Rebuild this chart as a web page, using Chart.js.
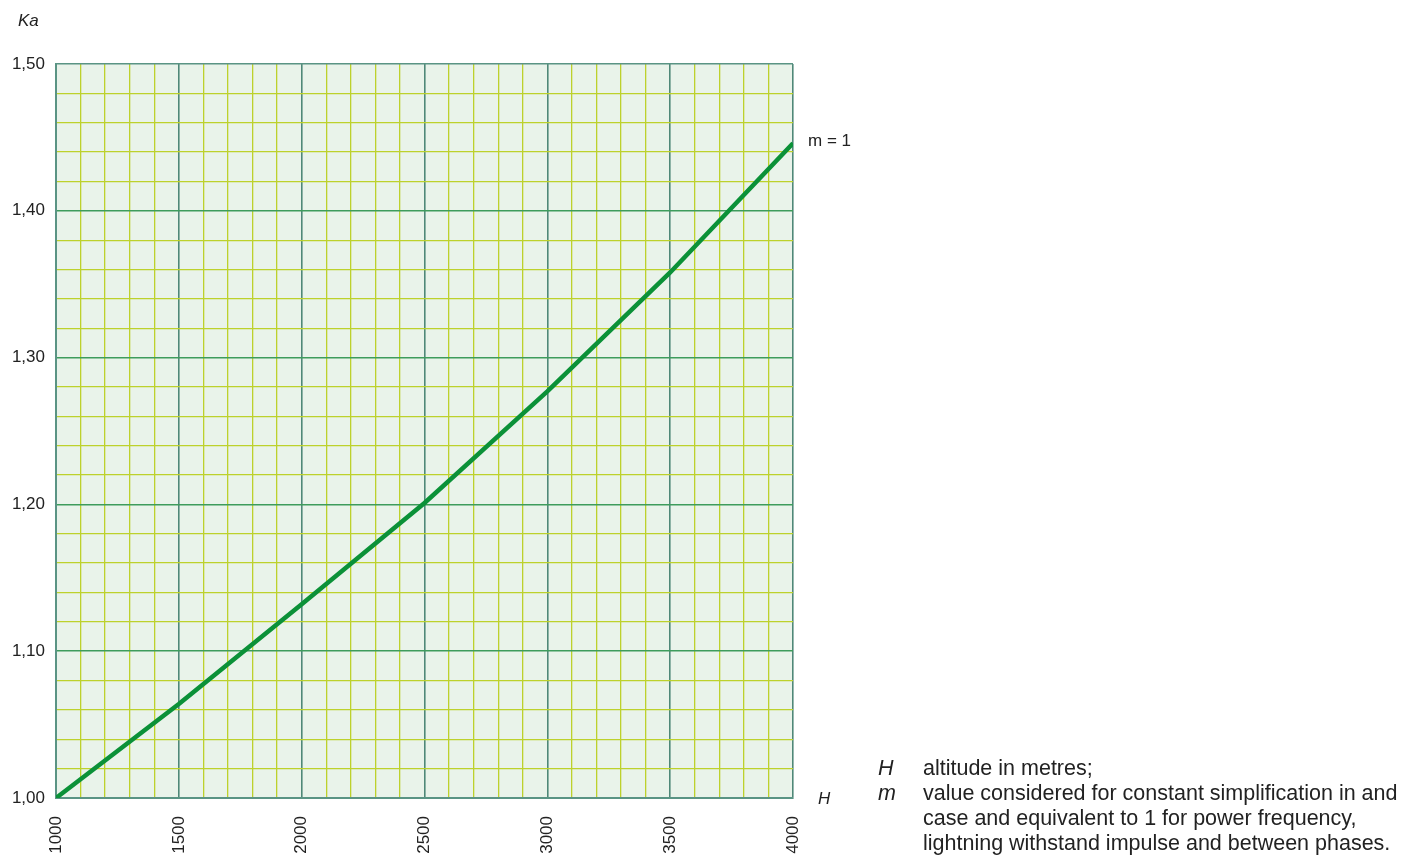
<!DOCTYPE html>
<html>
<head>
    <title>Ka vs altitude</title>
    <script src="https://cdn.jsdelivr.net/npm/chart.js"></script>
    <style>
        html, body { margin: 0; padding: 0; background: #fff; }
        body { width: 1406px; height: 855px; position: relative; overflow: hidden; font-family: "Liberation Sans", Arial, sans-serif; color: #222; }
        #wrap { position: absolute; left: 0; top: 0; width: 1406px; height: 855px; }
        .note { position: absolute; font-size: 21.5px; line-height: 25px; white-space: nowrap; }
        .note i { position: absolute; left: 0; }
        .note span { position: absolute; left: 45px; }
    </style>
</head>
<body>
<div id="wrap"><canvas id="kaChart" width="1406" height="855"></canvas></div>
<div class="note" style="left:878px; top:756px;"><i>H</i><span>altitude in metres;</span></div>
<div class="note" style="left:878px; top:781px;"><i>m</i><span>value considered for constant simplification in and<br>case and equivalent to 1 for power frequency,<br>lightning withstand impulse and between phases.</span></div>
<script>
// values (m = 1)
var altitudes = [1000, 1500, 2000, 2500, 3000, 3500, 4000];
var kaValues  = [1.000, 1.064, 1.132, 1.201, 1.277, 1.358, 1.446];
var xLabelValues = [1000, 1500, 2000, 2500, 3000, 3500, 4000];
var yLabelValues = [1.00, 1.10, 1.20, 1.30, 1.40, 1.50];
var curveLabel = 'm = 1';

var bgPlugin = {
    id: 'bg',
    beforeDraw: function(chart) {
        var a = chart.chartArea, ctx = chart.ctx;
        ctx.save();
        ctx.fillStyle = '#e9f3ea';
        ctx.fillRect(a.left, a.top, a.right - a.left, a.bottom - a.top);
        ctx.restore();
    },
    afterDraw: function(chart) {
        var ctx = chart.ctx, xs = chart.scales.x, ys = chart.scales.y;
        ctx.save();
        ctx.fillStyle = '#222';
        ctx.font = 'italic 17px "Liberation Sans", Arial, sans-serif';
        ctx.textBaseline = 'middle';
        ctx.textAlign = 'left';
        ctx.fillText('Ka', 18, 21);
        ctx.fillText('H', 818, 799);
        ctx.font = '17px "Liberation Sans", Arial, sans-serif';
        var n = altitudes.length - 1;
        ctx.fillText(curveLabel, xs.getPixelForValue(altitudes[n]) + 15, ys.getPixelForValue(kaValues[n]) - 2);
        ctx.restore();
    }
};

function isXMajor(v) { return xLabelValues.indexOf(Math.round(v)) >= 0; }
function isYMajor(v) {
    return yLabelValues.some(function(l) { return Math.abs(l - v) < 1e-6; });
}

var ctx = document.getElementById('kaChart').getContext('2d');
new Chart(ctx, {
    type: 'line',
    data: {
        datasets: [{
            data: altitudes.map(function(h, i) { return { x: h, y: kaValues[i] }; }),
            borderColor: '#0b9138',
            borderWidth: 4.5,
            pointRadius: 0,
            tension: 0,
            fill: false
        }]
    },
    plugins: [bgPlugin],
    options: {
        responsive: false,
        animation: false,
        layout: { padding: { top: 64, right: 613, left: 0, bottom: 0 } },
        plugins: { legend: { display: false }, tooltip: { enabled: false } },
        scales: {
            x: {
                type: 'linear',
                min: 1000, max: 4000,
                afterFit: function(s) { s.height = 57; },
                border: { display: true, color: '#5a9484', width: 2 },
                grid: {
                    drawTicks: false,
                    color: function(c) { return isXMajor(c.tick.value) ? '#4f8878' : '#bdd12c'; },
                    lineWidth: function(c) { return isXMajor(c.tick.value) ? 1.6 : 1.3; }
                },
                ticks: {
                    stepSize: 100,
                    autoSkip: false,
                    minRotation: 90, maxRotation: 90,
                    padding: 18,
                    color: '#222',
                    font: { size: 17, family: '"Liberation Sans", Arial, sans-serif' },
                    callback: function(v) { return isXMajor(v) ? String(Math.round(v)) : ''; }
                }
            },
            y: {
                type: 'linear',
                min: 1.00, max: 1.50,
                afterFit: function(s) { s.width = 56; },
                border: { display: true, color: '#5a9484', width: 2 },
                grid: {
                    drawTicks: false,
                    color: function(c) {
                        if (Math.abs(c.tick.value - 1.5) < 1e-6) return '#5a9484';
                        return isYMajor(c.tick.value) ? '#3e9c5c' : '#bdd12c';
                    },
                    lineWidth: function(c) { return isYMajor(c.tick.value) ? 1.6 : 1.3; }
                },
                ticks: {
                    stepSize: 0.02,
                    autoSkip: false,
                    padding: 11,
                    color: '#222',
                    font: { size: 17, family: '"Liberation Sans", Arial, sans-serif' },
                    callback: function(v) { return isYMajor(v) ? v.toFixed(2).replace('.', ',') : ''; }
                }
            }
        }
    }
});
</script>
</body>
</html>
